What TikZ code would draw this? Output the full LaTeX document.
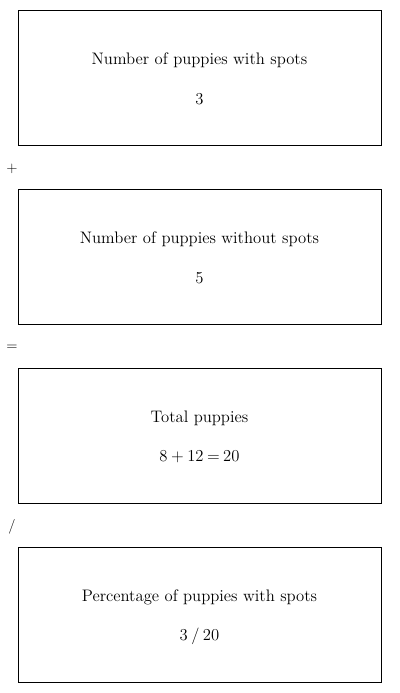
\documentclass[tikz,border=0pt]{standalone}
\usetikzlibrary{positioning}

\newcommand{\tightspace}{\spaceskip=2.6pt plus 1pt\relax}

\tikzset{
  sumbox/.style={draw, line width=0.75pt, minimum width=272.25pt, minimum height=101.25pt},
  boxtext/.style={font=\fontsize{12.5}{15}\selectfont},
  valtext/.style={font=\fontsize{12.5}{15}\selectfont\tightspace},
  optext/.style={font=\fontsize{11}{13}\selectfont}
}

\begin{document}
\begin{tikzpicture}[x=0.75pt, y=-0.75pt]
 \useasboundingbox (0,0) rectangle (400,693);

 %boxes
 \foreach \i/\title/\val in {0/{Number of puppies with spots}/3, 1/{Number of puppies without spots}/5, 2/{Total puppies}/{8 + 12 = 20}, 3/{Percentage of puppies with spots}/{3 / 20}} {
         \node[sumbox] (box\i) at (199.5, 77.5 + \i*179) {};
         \node[boxtext] (title\i) at (199.5, 60 + \i*179) {\title};
         \node[valtext] (val\i) at (199.5, 99 + \i*179) {\val};
 }

 %operators
 \foreach \i/\sym in {0/+, 1/=, 2/{/}} {
         \node[optext] (op\i) at (12, 169 + \i*179) {\sym};
 }

\end{tikzpicture}
\end{document}
